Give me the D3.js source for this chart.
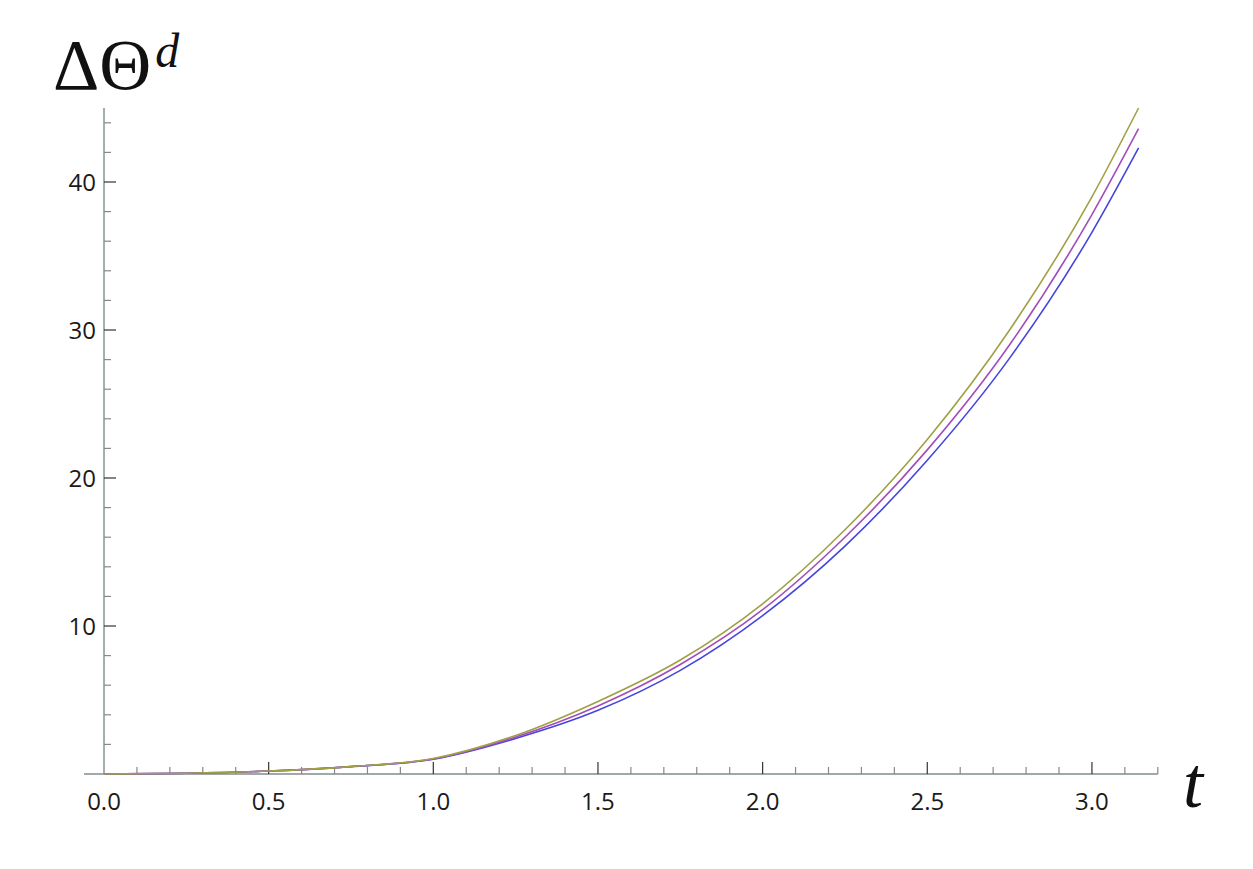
<!DOCTYPE html>
<html><head><meta charset="utf-8">
<script src="https://cdn.jsdelivr.net/npm/d3@7"></script>
<style>body{margin:0;background:#fff;}svg{display:block;}</style>
</head><body>
<svg id="c" width="1253" height="869"></svg>
<script>
const tValues = [0, 0.25, 0.5, 0.75, 1.0, 1.25, 1.5, 1.75, 2.0, 2.25, 2.5, 2.75, 3.0, 3.1416];
const seriesTop =    [0, 0.05, 0.2, 0.5, 1.05, 2.6, 4.9, 7.7, 11.5, 16.5, 22.6, 30.0, 39.0, 45.0];
const seriesMiddle = [0, 0.05, 0.2, 0.5, 1.02, 2.5, 4.6, 7.4, 11.1, 16.0, 21.9, 29.0, 37.8, 43.6];
const seriesBottom = [0, 0.05, 0.2, 0.5, 1.0, 2.4, 4.3, 7.0, 10.7, 15.4, 21.2, 28.1, 36.6, 42.3];
const xTickLabels = ["0.0", "0.5", "1.0", "1.5", "2.0", "2.5", "3.0"];
const yTickLabels = ["10", "20", "30", "40"];

const svg = d3.select("#c");
const x = d3.scaleLinear().domain([0, 3.2]).range([104, 1157.8]);
const y = d3.scaleLinear().domain([0, 45]).range([774, 108]);

// axes lines
svg.append("line").attr("x1", 84).attr("x2", x(3.2)).attr("y1", y(0)).attr("y2", y(0))
  .attr("stroke", "#7f8c8c").attr("stroke-width", 1.4);
svg.append("line").attr("x1", x(0)).attr("x2", x(0)).attr("y1", y(0)).attr("y2", y(45))
  .attr("stroke", "#7f8c8c").attr("stroke-width", 1.4);

// x ticks
const isMajorX = d => Math.abs(d * 2 - Math.round(d * 2)) < 1e-6;
const xMinor = d3.range(1, 33).map(i => i / 10);
svg.selectAll(".xt").data(xMinor).enter().append("line")
  .attr("x1", d => x(d)).attr("x2", d => x(d))
  .attr("y1", y(0)).attr("y2", d => y(0) - (isMajorX(d) ? 12 : 7))
  .attr("stroke", d => (isMajorX(d) ? "#333" : "#888"))
  .attr("stroke-width", 1.2);
svg.selectAll(".xl").data(xTickLabels).enter().append("text")
  .attr("x", d => x(+d)).attr("y", 810)
  .attr("text-anchor", "middle").attr("font-family", "Open Sans, sans-serif")
  .attr("font-size", 24).attr("fill", "#1a1a1a").text(d => d);

// y ticks
const yMinor = d3.range(2, 45, 2);
svg.selectAll(".yt").data(yMinor).enter().append("line")
  .attr("x1", x(0)).attr("x2", d => x(0) + (d % 10 === 0 ? 12 : 7))
  .attr("y1", d => y(d)).attr("y2", d => y(d))
  .attr("stroke", d => (d % 10 === 0 ? "#333" : "#888"))
  .attr("stroke-width", 1.2);
svg.selectAll(".yl").data(yTickLabels).enter().append("text")
  .attr("x", 96).attr("y", d => y(+d) + 8.5)
  .attr("text-anchor", "end").attr("font-family", "Open Sans, sans-serif")
  .attr("font-size", 24).attr("fill", "#1a1a1a").text(d => d);

// curves
const line = d3.line().curve(d3.curveMonotoneX);
const series = [
  {vals: seriesBottom, color: "#4646dc"},
  {vals: seriesMiddle, color: "#a44cbc"},
  {vals: seriesTop, color: "#a0a044"}
];
series.forEach(s => {
  svg.append("path")
    .attr("d", line(tValues.map((t, i) => [x(t), y(s.vals[i])])))
    .attr("fill", "none").attr("stroke", s.color).attr("stroke-width", 1.6);
});

// axis labels
const yl = svg.append("text").attr("x", 53).attr("y", 89)
  .attr("font-family", "Liberation Serif, DejaVu Serif, serif").attr("font-size", 72).attr("fill", "#111");
yl.append("tspan").text("ΔΘ");
yl.append("tspan").attr("font-style", "italic").attr("font-size", 48).attr("dy", -22).attr("dx", 4).text("d");

svg.append("text").attr("x", 1183).attr("y", 807)
  .attr("font-family", "Liberation Serif, DejaVu Serif, serif").attr("font-style", "italic")
  .attr("font-size", 72).attr("fill", "#111").text("t");
</script>
</body></html>
